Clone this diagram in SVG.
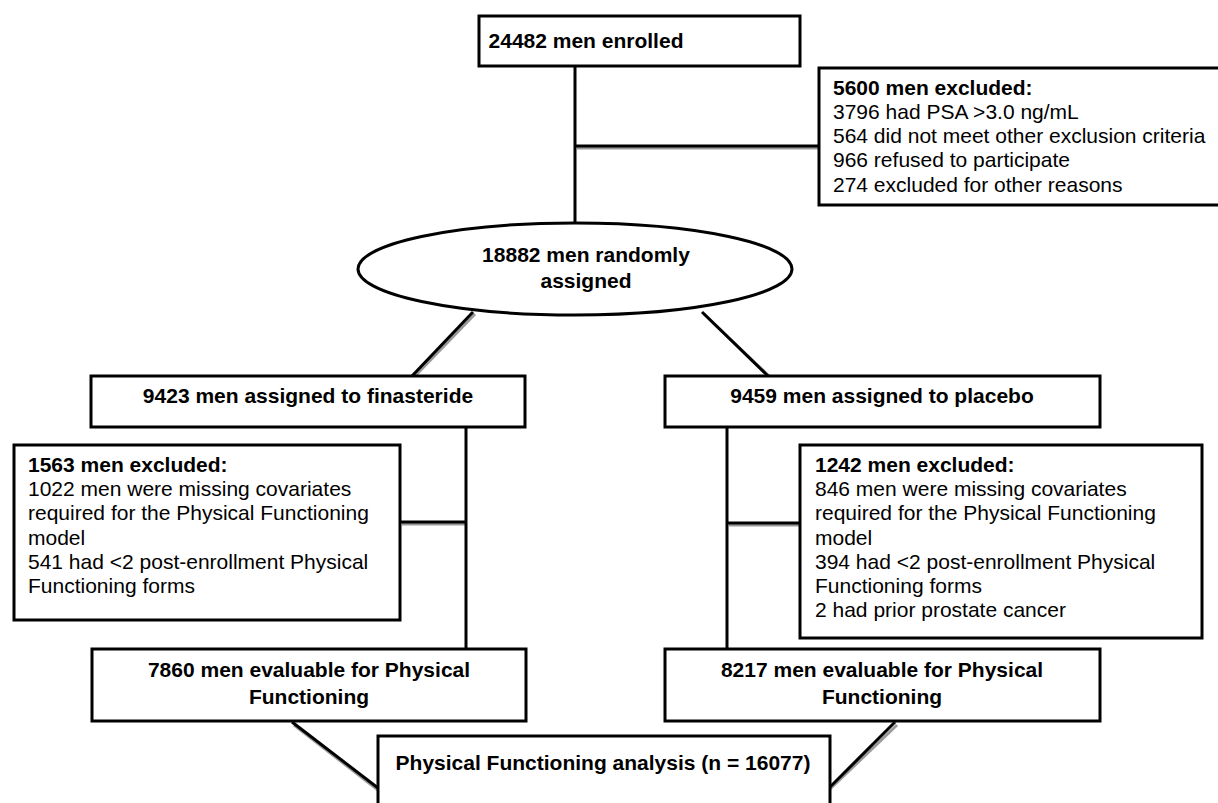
<svg xmlns="http://www.w3.org/2000/svg" width="1218" height="803" viewBox="0 0 1218 803">
<style>
.box{fill:#fff;stroke:#000;stroke-width:3}
.ln{stroke:#000;stroke-width:3;fill:none}
.sh{stroke:#9a9a9a;stroke-width:3;fill:none}
.b{font-family:"Liberation Sans",Arial,sans-serif;font-weight:bold;font-size:21px;fill:#000}
.r{font-family:"Liberation Sans",Arial,sans-serif;font-size:21px;fill:#000}
.c{text-anchor:middle}
</style>
<rect width="1218" height="803" fill="#fff"/>
<g id="connectors">
<g class="sh">
<line x1="577" y1="148" x2="819" y2="148"/>
<line x1="402" y1="524" x2="466" y2="524"/>
<line x1="729" y1="525" x2="800" y2="525"/>
<line x1="475" y1="314" x2="414" y2="377"/>
<line x1="704" y1="314" x2="770" y2="377"/>
<line x1="294" y1="725" x2="378" y2="790"/>
<line x1="897" y1="725" x2="830" y2="789"/>
</g>
<line class="ln" x1="575" y1="66" x2="575" y2="224"/>
<line class="ln" x1="575" y1="146" x2="819" y2="146"/>
<line class="ln" x1="466" y1="427" x2="466" y2="649"/>
<line class="ln" x1="400" y1="522" x2="466" y2="522"/>
<line class="ln" x1="727" y1="427" x2="727" y2="649"/>
<line class="ln" x1="727" y1="523" x2="800" y2="523"/>
<line class="ln" x1="473" y1="312" x2="412" y2="376"/>
<line class="ln" x1="702" y1="312" x2="768" y2="376"/>
<line class="ln" x1="292" y1="722" x2="378" y2="788"/>
<line class="ln" x1="895" y1="722" x2="830" y2="787"/>
</g>
<g id="enrolled">
<rect class="box" x="479" y="16" width="321" height="50"/>
<text class="b c" x="586" y="48">24482 men enrolled</text>
</g>
<g id="excluded-top">
<rect class="box" x="819" y="68" width="402" height="137"/>
<text class="b" x="833" y="95">5600 men excluded:</text>
<text class="r" x="833" y="119">3796 had PSA &gt;3.0 ng/mL</text>
<text class="r" x="833" y="143">564 did not meet other exclusion criteria</text>
<text class="r" x="833" y="167">966 refused to participate</text>
<text class="r" x="833" y="192">274 excluded for other reasons</text>
</g>
<g id="randomized">
<ellipse class="box" cx="575" cy="269" rx="217" ry="46"/>
<text class="b c" x="586" y="262">18882 men randomly</text>
<text class="b c" x="586" y="288">assigned</text>
</g>
<g id="finasteride">
<rect class="box" x="91" y="376" width="434" height="51"/>
<text class="b c" x="308" y="403">9423 men assigned to finasteride</text>
</g>
<g id="placebo">
<rect class="box" x="665" y="376" width="435" height="51"/>
<text class="b c" x="882" y="403">9459 men assigned to placebo</text>
</g>
<g id="excluded-finasteride">
<rect class="box" x="14" y="445" width="386" height="175"/>
<text class="b" x="28" y="472">1563 men excluded:</text>
<text class="r" x="28" y="496">1022 men were missing covariates</text>
<text class="r" x="28" y="520">required for the Physical Functioning</text>
<text class="r" x="28" y="545">model</text>
<text class="r" x="28" y="569">541 had &lt;2 post-enrollment Physical</text>
<text class="r" x="28" y="593">Functioning forms</text>
</g>
<g id="excluded-placebo">
<rect class="box" x="800" y="445" width="402" height="193"/>
<text class="b" x="815" y="472">1242 men excluded:</text>
<text class="r" x="815" y="496">846 men were missing covariates</text>
<text class="r" x="815" y="520">required for the Physical Functioning</text>
<text class="r" x="815" y="545">model</text>
<text class="r" x="815" y="569">394 had &lt;2 post-enrollment Physical</text>
<text class="r" x="815" y="593">Functioning forms</text>
<text class="r" x="815" y="617">2 had prior prostate cancer</text>
</g>
<g id="evaluable-finasteride">
<rect class="box" x="92" y="649" width="434" height="72"/>
<text class="b c" x="309" y="677">7860 men evaluable for Physical</text>
<text class="b c" x="309" y="704">Functioning</text>
</g>
<g id="evaluable-placebo">
<rect class="box" x="665" y="649" width="435" height="72"/>
<text class="b c" x="882" y="677">8217 men evaluable for Physical</text>
<text class="b c" x="882" y="704">Functioning</text>
</g>
<g id="analysis">
<rect class="box" x="378" y="736" width="452" height="80"/>
<text class="b c" x="603" y="770">Physical Functioning analysis (n = 16077)</text>
</g>
</svg>
